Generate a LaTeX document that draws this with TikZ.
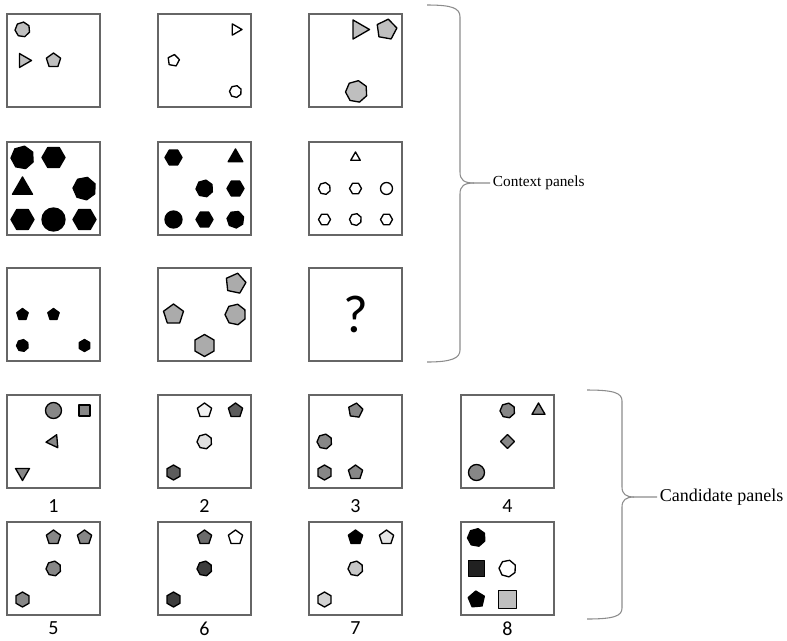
\documentclass[tikz,border=0pt]{standalone}
\usepackage{fontspec}
\setmainfont{Liberation Serif}
\newfontfamily\numfont{Carlito}
\usetikzlibrary{positioning}

\colorlet{ctxgray}{black!25}
\colorlet{ctxgrayb}{black!33}
\colorlet{midgray}{black!47}
\colorlet{darkgray}{black!64}
\colorlet{darkergray}{black!76}

\tikzset{
  panel/.style={draw=black!60,line width=0.9pt,minimum size=69.75pt,inner sep=0pt},
  shapeline/.style={draw=black,line width=1pt,line join=round},
  braceline/.style={draw=black!45,line width=0.8pt},
  numlbl/.style={inner sep=0pt,font=\numfont\fontsize{15}{18}\selectfont},
  bracelbl/.style={anchor=west,inner sep=2pt}
}

% #1 centre, #2 sides, #3 radius, #4 first vertex angle, #5 fill
\newcommand{\pgn}[5]{\draw[shapeline,fill=#5,shift={(#1)}] (#4:#3)
  \foreach \k in {2,...,#2}{ -- ({#4+(\k-1)*360/#2}:#3)} -- cycle;}
\newcommand{\crc}[3]{\draw[shapeline,fill=#3] (#1) circle[radius=#2];}

\begin{document}
\begin{tikzpicture}[x=0.75pt,y=-0.75pt]
\useasboundingbox (0,0) rectangle (787,640);

% context panels
\node[panel] (ctxa) at (53.5,60.5) {};
\node[panel] (ctxb) at (204.5,60.5) {};
\node[panel] (ctxc) at (355.5,60.5) {};
\node[panel] (ctxd) at (53.5,188.5) {};
\node[panel] (ctxe) at (204.5,188.5) {};
\node[panel] (ctxf) at (355.5,188.5) {};
\node[panel] (ctxg) at (53.5,314.5) {};
\node[panel] (ctxh) at (204.5,314.5) {};
\node[panel] (ctxi) at (355.5,314.5) {};

\begin{scope}[shift={(ctxa.center)}]
\pgn{-31,-31}{7}{7.5}{278}{ctxgray}
\pgn{-30,0}{3}{8}{0}{ctxgray}
\pgn{0,0}{5}{7.5}{270}{ctxgray}
\end{scope}
\begin{scope}[shift={(ctxb.center)}]
\pgn{31,-31}{3}{6.5}{0}{white}
\pgn{-31,0}{5}{6}{280}{white}
\pgn{31,31}{7}{6}{285}{white}
\end{scope}
\begin{scope}[shift={(ctxc.center)}]
\pgn{3,-31}{3}{11}{0}{ctxgray}
\pgn{31,-31}{5}{10.5}{280}{ctxgray}
\pgn{1,31}{7}{11}{280}{ctxgray}
\end{scope}

\begin{scope}[shift={(ctxd.center)}]
\pgn{-31,-31}{7}{11.5}{280}{black}
\pgn{0,-31}{6}{11.5}{0}{black}
\pgn{-31,0}{3}{11.5}{270}{black}
\pgn{31,0}{7}{11.5}{285}{black}
\pgn{-31,31}{6}{11.5}{0}{black}
\crc{0,31}{11.5}{black}
\pgn{31,31}{6}{11.5}{0}{black}
\end{scope}
\begin{scope}[shift={(ctxe.center)}]
\pgn{-31,-31}{6}{8.5}{0}{black}
\pgn{31,-31}{3}{8.5}{270}{black}
\pgn{0,0}{7}{8.5}{280}{black}
\pgn{31,0}{6}{8.5}{0}{black}
\crc{-31,31}{8.5}{black}
\pgn{0,31}{6}{8.5}{0}{black}
\pgn{31,31}{7}{8.5}{290}{black}
\end{scope}
\begin{scope}[shift={(ctxf.center)}]
\pgn{0,-31}{3}{5.5}{270}{white}
\pgn{-31,0}{7}{6}{280}{white}
\pgn{0,0}{6}{6}{0}{white}
\crc{31,0}{6}{white}
\pgn{-31,31}{6}{6}{0}{white}
\pgn{0,31}{7}{6}{285}{white}
\pgn{31,31}{6}{6}{0}{white}
\end{scope}

\begin{scope}[shift={(ctxg.center)}]
\pgn{-31,0}{5}{6}{270}{black}
\pgn{0,0}{5}{6}{270}{black}
\pgn{-31,31}{7}{6}{280}{black}
\pgn{31,31}{6}{6}{270}{black}
\end{scope}
\begin{scope}[shift={(ctxh.center)}]
\pgn{31,-31}{5}{10.5}{282}{ctxgrayb}
\pgn{-31,0}{5}{10.5}{270}{ctxgrayb}
\pgn{31,0}{7}{10.5}{282}{ctxgrayb}
\pgn{0,31}{6}{11}{270}{ctxgrayb}
\end{scope}
\node[inner sep=0pt,font=\numfont\fontsize{40}{44}\selectfont] (qmark) at (ctxi.center) {?};

% candidate panels
\node[panel] (cnda) at (53.5,441.5) {};
\node[panel] (cndb) at (204.5,441.5) {};
\node[panel] (cndc) at (355.5,441.5) {};
\node[panel] (cndd) at (507.5,441.5) {};
\node[panel] (cnde) at (53.5,568.5) {};
\node[panel] (cndf) at (204.5,568.5) {};
\node[panel] (cndg) at (355.5,568.5) {};
\node[panel] (cndh) at (507.5,568.5) {};

\begin{scope}[shift={(cnda.center)}]
\crc{0,-31}{8}{midgray}
\pgn{31,-31}{4}{7.8}{45}{midgray}
\pgn{0,0}{3}{7.5}{175}{midgray}
\pgn{-31,31}{3}{8}{90}{midgray}
\end{scope}
\begin{scope}[shift={(cndb.center)}]
\pgn{0,-31}{5}{7.5}{270}{black!5}
\pgn{31,-31}{5}{7.5}{270}{darkgray}
\pgn{0,0}{7}{7.5}{280}{black!12}
\pgn{-31,31}{6}{7.5}{270}{darkgray}
\end{scope}
\begin{scope}[shift={(cndc.center)}]
\pgn{0,-31}{5}{7.5}{278}{midgray}
\pgn{-31,0}{7}{7.5}{280}{midgray}
\pgn{-31,31}{6}{7.5}{270}{midgray}
\pgn{0,31}{5}{7.5}{270}{midgray}
\end{scope}
\begin{scope}[shift={(cndd.center)}]
\pgn{0,-31}{7}{7.5}{280}{midgray}
\pgn{31,-31}{3}{7.5}{270}{midgray}
\pgn{0,0}{4}{7}{0}{midgray}
\crc{-31,31}{8}{midgray}
\end{scope}
\begin{scope}[shift={(cnde.center)}]
\pgn{0,-31}{5}{7.5}{270}{midgray}
\pgn{31,-31}{5}{7.5}{270}{midgray}
\pgn{0,0}{7}{7.5}{280}{midgray}
\pgn{-31,31}{6}{7.5}{270}{midgray}
\end{scope}
\begin{scope}[shift={(cndf.center)}]
\pgn{0,-31}{5}{7.5}{270}{black!58}
\pgn{31,-31}{5}{7.5}{270}{white}
\pgn{0,0}{7}{7.5}{280}{darkergray}
\pgn{-31,31}{6}{7.5}{270}{darkergray}
\end{scope}
\begin{scope}[shift={(cndg.center)}]
\pgn{0,-31}{5}{7.5}{270}{black}
\pgn{31,-31}{5}{7.5}{270}{black!10}
\pgn{0,0}{7}{7.5}{280}{black!22}
\pgn{-31,31}{6}{7.5}{270}{black!18}
\end{scope}
\begin{scope}[shift={(cndh.center)}]
\pgn{-31,-31}{7}{9}{280}{black}
\pgn{-31,0}{4}{11.3}{45}{black!87}
\pgn{0,0}{7}{8.5}{285}{white}
\pgn{-31,31}{5}{8.5}{265}{black}
\pgn{0,31}{4}{12.7}{45}{black!25}
\end{scope}

\node[numlbl] (numa) at (53.5,506) {1};
\node[numlbl] (numb) at (204.5,506) {2};
\node[numlbl] (numc) at (355.5,506) {3};
\node[numlbl] (numd) at (507.5,506) {4};
\node[numlbl] (nume) at (53.5,628.5) {5};
\node[numlbl] (numf) at (204.5,628.5) {6};
\node[numlbl] (numg) at (355.5,628.5) {7};
\node[numlbl] (numh) at (507.5,628.5) {8};

% braces
\coordinate (ctxtop) at (427,5);
\coordinate (ctxbot) at (427,362);
\coordinate (ctxtip) at (490,183);
\draw[braceline] (ctxtop) .. controls (452,5) and (460,8) .. (460,17) -- (460,172)
  .. controls (460,180) and (464,183) .. (474,183) -- (ctxtip);
\draw[braceline] (474,183) .. controls (464,183) and (460,186) .. (460,194) -- (460,350)
  .. controls (460,358) and (452,362) .. (ctxbot);
\node[bracelbl,font=\fontsize{11.5}{13}\selectfont] (ctxlbl) at (ctxtip) {Context panels};

\coordinate (cndtop) at (587,390);
\coordinate (cndbot) at (587,619);
\coordinate (cndtip) at (657,497);
\draw[braceline] (cndtop) .. controls (614,390) and (622,393) .. (622,401) -- (622,487)
  .. controls (622,494) and (626,497) .. (634,497) -- (cndtip);
\draw[braceline] (634,497) .. controls (626,497) and (622,500) .. (622,507) -- (622,608)
  .. controls (622,616) and (614,619) .. (cndbot);
\node[bracelbl,font=\fontsize{13.5}{15}\selectfont] (cndlbl) at (cndtip) {Candidate panels};
\end{tikzpicture}
\end{document}
